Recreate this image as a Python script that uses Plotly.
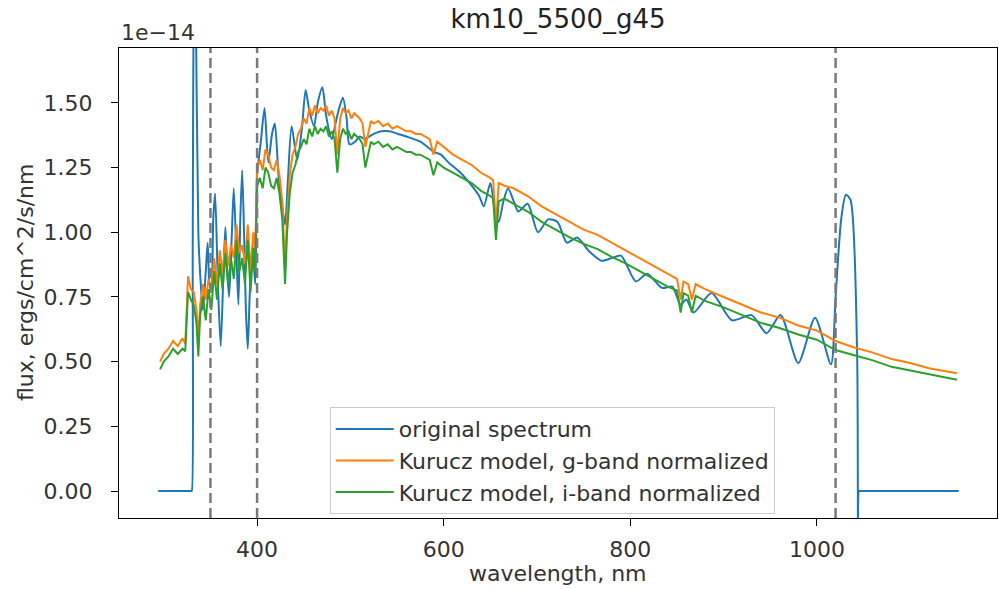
import plotly.graph_objects as go

# ---------------- data (flux in units of 1e-14 ergs/cm^2/s/nm) ----------------
orig_wl = [294, 310, 320, 326, 328, 329, 329.5, 330, 331, 332.5, 334, 337, 340, 342, 345, 347, 349, 351,
           353, 355, 358, 361,
           364, 366, 368, 370, 373, 375, 378, 380, 382, 384, 386, 388, 390, 392, 395, 398,
           400, 404, 408, 412, 416, 419, 423, 427, 430, 433, 437, 443, 448, 452, 456, 461,
           465, 470, 474, 480, 484, 488, 492, 496, 499, 505, 510, 515, 520, 525, 533, 542,
           551, 560, 575, 590, 597, 605, 618, 630, 638, 643, 650, 655, 659, 664, 669, 675,
           680, 690, 701, 712, 722, 732, 743, 755, 769, 780, 790, 806, 818, 834, 845, 854,
           860, 868, 887, 909, 930, 946, 961, 980, 998, 1015, 1020, 1026, 1031, 1036, 1043,
           1044, 1045, 1045.5, 1046, 1047, 1050, 1060, 1080, 1110, 1152]
orig_flux = [0.0, 0.0, 0.0, 0.0, 0.0, 0.0, 0.0, 0.0, 0.9, 2.2, 2.0, 1.0, 0.78, 0.70, 0.85, 0.96, 0.80, 0.78,
             1.05, 1.15, 0.80, 0.56,
             0.85, 1.02, 0.85, 0.75, 1.00, 1.17, 0.90, 0.72, 1.05, 1.24, 1.00, 0.70, 0.55, 0.75, 0.95, 0.80,
             1.22, 1.35, 1.48, 1.27, 1.38, 1.42, 1.22, 1.10, 1.03, 1.20, 1.41, 1.28, 1.40, 1.55, 1.47, 1.41,
             1.50, 1.56, 1.45, 1.36, 1.42, 1.48, 1.52, 1.44, 1.34, 1.35, 1.37, 1.36, 1.37, 1.38, 1.39, 1.39,
             1.38, 1.37, 1.35, 1.31, 1.30, 1.27, 1.23, 1.18, 1.14, 1.10, 1.19, 1.08, 1.04, 1.12, 1.17, 1.12,
             1.08, 1.11, 1.00, 1.05, 1.04, 0.96, 0.98, 0.93, 0.89, 0.90, 0.91, 0.81, 0.84, 0.785, 0.79, 0.72,
             0.74, 0.69, 0.765, 0.66, 0.68, 0.61, 0.68, 0.495, 0.67, 0.49, 0.75, 1.05, 1.145, 1.125, 0.55,
             -0.4, 0.0, 0.0, 0.0, 0.0, 0.0, 0.0, 0.0, 0.0, 0.0]

model_wl = [296, 300, 305, 310, 315, 320, 323, 326, 329, 332, 335, 337, 339, 342, 345, 348, 351, 354,
            357, 360, 363, 366, 369, 372, 375, 378, 381, 384, 387, 390, 393, 396, 398, 400, 403, 406,
            409, 412, 415, 418, 421, 424, 427, 430, 432, 435, 438, 441, 444, 447, 450, 453, 456, 459,
            462, 465, 468, 471, 474, 477, 480, 483, 486, 489, 492, 495, 498, 501, 504, 507, 510, 513,
            516, 519, 522, 525, 530, 535, 540, 545, 550, 555, 560, 565, 570, 575, 580, 585, 589, 593,
            600, 610, 620, 630, 640, 650, 653, 656, 659, 665, 675, 690, 705, 720, 735, 750, 765, 780,
            795, 810, 825, 840, 850, 854, 857, 862, 866, 870, 880, 900, 920, 940, 960, 980, 1000, 1020,
            1040, 1060, 1080, 1100, 1120, 1150]
g_norm = [0.50, 0.53, 0.55, 0.58, 0.56, 0.59, 0.57, 0.83, 0.78, 0.77, 0.70, 0.60, 0.72, 0.80, 0.74, 0.82, 0.77, 0.90,
          0.80, 0.93, 0.84, 0.97, 0.87, 0.95, 0.90, 1.03, 0.92, 0.95, 0.88, 1.03, 0.85, 1.00, 0.93, 1.25, 1.28, 1.24,
          1.32, 1.30, 1.25, 1.24, 1.28, 1.22, 1.12, 0.86, 1.05, 1.22, 1.30, 1.33, 1.38, 1.40, 1.44, 1.42, 1.48, 1.45,
          1.49, 1.46, 1.48, 1.47, 1.49, 1.45, 1.47, 1.44, 1.30, 1.44, 1.48, 1.46, 1.47, 1.44, 1.46, 1.45, 1.44, 1.42,
          1.33, 1.38, 1.43, 1.42, 1.43, 1.41, 1.42, 1.40, 1.41, 1.40, 1.39, 1.39, 1.38, 1.38, 1.37, 1.36, 1.30, 1.35,
          1.33, 1.30, 1.28, 1.26, 1.23, 1.21, 1.20, 1.03, 1.19, 1.18, 1.17, 1.14, 1.10, 1.07, 1.04, 1.01, 0.99, 0.96,
          0.93, 0.90, 0.87, 0.84, 0.82, 0.74, 0.81, 0.80, 0.74, 0.80, 0.78, 0.75, 0.72, 0.69, 0.67, 0.64, 0.62, 0.58,
          0.555, 0.535, 0.51, 0.495, 0.475, 0.455]
i_norm = [0.47, 0.50, 0.52, 0.55, 0.53, 0.55, 0.54, 0.77, 0.74, 0.72, 0.65, 0.52, 0.68, 0.75, 0.66, 0.78, 0.70, 0.85,
          0.74, 0.88, 0.78, 0.92, 0.80, 0.90, 0.82, 0.97, 0.85, 0.90, 0.80, 0.97, 0.77, 0.94, 0.85, 1.18, 1.21, 1.17,
          1.25, 1.23, 1.18, 1.17, 1.21, 1.15, 1.05, 0.80, 0.99, 1.15, 1.23, 1.26, 1.31, 1.33, 1.36, 1.34, 1.40, 1.37,
          1.41, 1.38, 1.40, 1.39, 1.41, 1.37, 1.39, 1.36, 1.23, 1.36, 1.40, 1.38, 1.39, 1.36, 1.38, 1.37, 1.36, 1.34,
          1.25, 1.30, 1.35, 1.34, 1.35, 1.33, 1.34, 1.32, 1.33, 1.32, 1.31, 1.31, 1.30, 1.30, 1.29, 1.28, 1.22, 1.27,
          1.25, 1.23, 1.21, 1.19, 1.16, 1.14, 1.13, 0.97, 1.12, 1.13, 1.11, 1.08, 1.04, 1.01, 0.98, 0.955, 0.935, 0.905,
          0.88, 0.85, 0.82, 0.79, 0.775, 0.69, 0.765, 0.755, 0.69, 0.755, 0.735, 0.71, 0.68, 0.65, 0.63, 0.605, 0.585, 0.545,
          0.525, 0.505, 0.48, 0.465, 0.45, 0.43]

band_edges = [350, 400, 1020]
y_ticks = [0.0, 0.25, 0.5, 0.75, 1.0, 1.25, 1.5]
y_tick_labels = ["0.00", "0.25", "0.50", "0.75", "1.00", "1.25", "1.50"]
x_ticks = [400, 600, 800, 1000]
x_tick_labels = ["400", "600", "800", "1000"]

FONT = "DejaVu Sans"
FS = 22
TXT = "#333333"

fig = go.Figure()
fig.add_trace(go.Scatter(x=orig_wl, y=orig_flux, mode="lines", name="original spectrum",
                         line=dict(color="#1f77b4", width=2, shape="spline", smoothing=0.7)))
fig.add_trace(go.Scatter(x=model_wl, y=g_norm, mode="lines", name="Kurucz model, g-band normalized",
                         line=dict(color="#ff7f0e", width=2)))
fig.add_trace(go.Scatter(x=model_wl, y=i_norm, mode="lines", name="Kurucz model, i-band normalized",
                         line=dict(color="#2ca02c", width=2)))

for xe in band_edges:
    fig.add_shape(type="line", x0=xe, x1=xe, xref="x", y0=0, y1=1, yref="paper",
                  line=dict(color="#7a7a7a", width=2.5, dash="10px,5px"), layer="above")

fig.update_layout(
    width=999, height=589,
    margin=dict(l=119, r=2, t=48, b=71),
    paper_bgcolor="white", plot_bgcolor="white",
    font=dict(family=FONT, size=FS, color=TXT),
    title=dict(text="km10_5500_g45", x=0.5, xref="paper", xanchor="center",
               y=1 - 19 / 589, yref="container", yanchor="middle",
               font=dict(family=FONT, size=26, color="#222222")),
    showlegend=True,
    legend=dict(x=0.24, y=0.236, xanchor="left", yanchor="top", itemwidth=58,
                bgcolor="rgba(255,255,255,0.8)", bordercolor="#cccccc", borderwidth=1,
                font=dict(family=FONT, size=FS, color=TXT), tracegroupgap=0),
    xaxis=dict(range=[252, 1193], tickvals=x_ticks, ticktext=x_tick_labels,
               showgrid=False, zeroline=False, showline=True, linecolor="black", linewidth=1.2,
               mirror=True, ticks="outside", ticklen=7, tickcolor="black", tickwidth=1.2,
               ticklabelstandoff=4,
               tickfont=dict(family=FONT, size=FS, color=TXT)),
    yaxis=dict(range=[-0.104, 1.712], tickvals=y_ticks, ticktext=y_tick_labels,
               showgrid=False, zeroline=False, showline=True, linecolor="black", linewidth=1.2,
               mirror=True, ticks="outside", ticklen=7, tickcolor="black", tickwidth=1.2,
               ticklabelstandoff=14,
               tickfont=dict(family=FONT, size=FS, color=TXT)),
    annotations=[
        dict(text="1e\u221214", x=0, y=1, xref="paper", yref="paper", xanchor="left", yanchor="bottom",
             yshift=1, showarrow=False, font=dict(family=FONT, size=FS, color=TXT)),
        dict(text="wavelength, nm", x=0.5, y=0, xref="paper", yref="paper", xanchor="center",
             yanchor="middle", yshift=-55, showarrow=False, font=dict(family=FONT, size=FS, color=TXT)),
        dict(text="flux, ergs/cm^2/s/nm", x=0, y=0.5, xref="paper", yref="paper", xanchor="center",
             yanchor="middle", xshift=-94, textangle=-90, showarrow=False,
             font=dict(family=FONT, size=FS, color=TXT)),
    ],
)

fig.write_html("out.html")
